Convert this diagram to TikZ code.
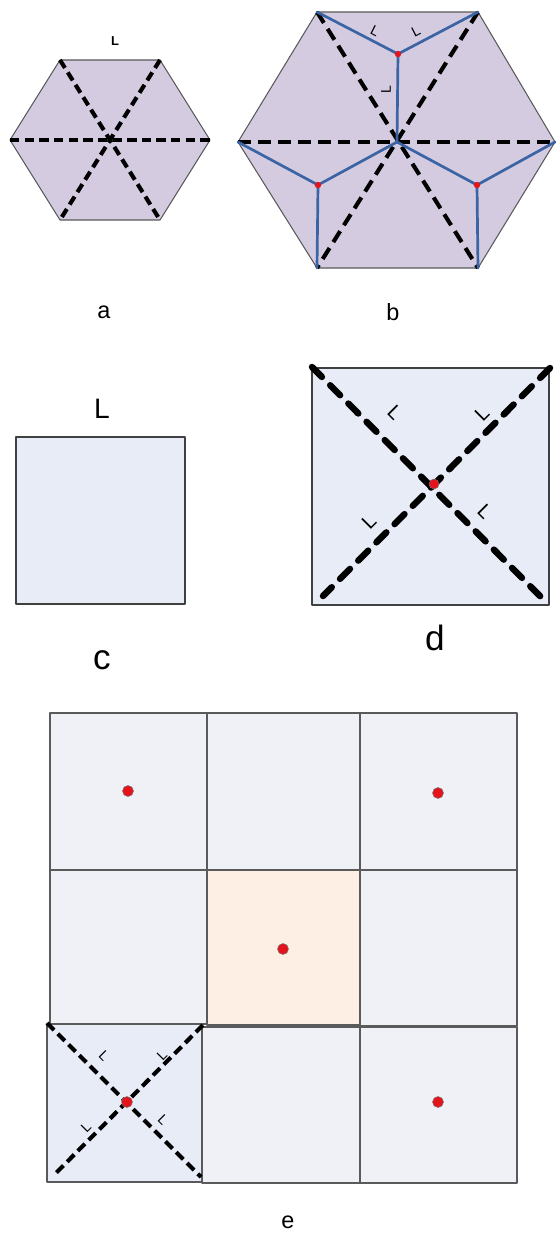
\documentclass[tikz,border=0pt]{standalone}
\usepackage{fontspec}
\setmainfont{Liberation Sans}
\usetikzlibrary{calc}
\definecolor{lilac}{HTML}{D4CBE1}
\definecolor{ice}{HTML}{E8ECF7}
\definecolor{mist}{HTML}{EFF1F7}
\definecolor{peach}{HTML}{FDEFE4}
\definecolor{steel}{HTML}{3A64A3}
\definecolor{dotred}{HTML}{E3141C}
\definecolor{edge}{HTML}{5A5A5A}
\begin{document}
\begin{tikzpicture}[x=0.03cm,y=-0.03cm,line cap=round,line join=round]
  \tikzset{cut/.style={black,line width=3.5pt,line cap=butt,dash pattern=on 8pt off 4.5pt},
    bigcut/.style={black,line width=5.5pt,line cap=round,dash pattern=on 12pt off 10pt},
    cell/.style={draw=edge,line width=1pt},
    spoke/.style={steel,line width=2.3pt},
    dot/.style={fill=dotred,draw=black!55,line width=0.4pt},
    caption/.style={font=\fontsize{20}{20}\selectfont},
    side/.style={font=\fontsize{12}{12}\selectfont,inner sep=0pt}}
  \useasboundingbox (0,0) rectangle (559,1234);
  % (a) hexagon
  \foreach \n/\x/\y in {L/10/140,TL/60/60,TR/160/60,R/210/140,BR/160/220,BL/60/220,C/110/140}{
    \coordinate (a\n) at (\x,\y);
  }
  \filldraw[fill=lilac,draw=edge,line width=0.9pt] (aL)--(aTL)--(aTR)--(aR)--(aBR)--(aBL)--cycle;
  \draw[cut] (aL)--(aR);
  \draw[cut] (aTL)--(aBR);
  \draw[cut] (aTR)--(aBL);
  \node[side,font=\fontsize{11}{11}\selectfont\bfseries] (aside) at (115,41) {L};
  \node[caption] (acap) at (104,312) {a};
  % (b) hexagon with centroids
  \foreach \n/\x/\y in {L/238/142,TL/317/12,TR/478/12,R/555/142,BR/478/268,BL/317/268,C/397/142,P/398/54,Q/318/185,S/477/185}{
    \coordinate (b\n) at (\x,\y);
  }
  \filldraw[fill=lilac,draw=edge,line width=0.9pt] (bL)--(bTL)--(bTR)--(bR)--(bBR)--(bBL)--cycle;
  \draw[cut,dash pattern=on 11pt off 6pt] (bL)--(bR);
  \draw[cut,dash pattern=on 11pt off 6pt] (bTL)--(bBR);
  \draw[cut,dash pattern=on 11pt off 6pt] (bTR)--(bBL);
  \draw[spoke] (bTL)--(bP)--(bTR) (bP)--(bC);
  \draw[spoke] (bL)--(bQ)--(bBL) (bQ)--(bC);
  \draw[spoke] (bR)--(bS)--(bBR) (bS)--(bC);
  \foreach \p in {bP,bQ,bS}{\fill[dotred] (\p) circle (3.2);}
  \node[side,rotate=-27] (bside1) at (375,31) {L};
  \node[side,rotate=27] (bside2) at (416,31) {L};
  \node[side,rotate=90] (bside3) at (386,90) {L};
  \node[caption] (bcap) at (393,312) {b};
  % (c) square
  \filldraw[fill=ice,draw=black!75,line width=1.3pt] (16,437) rectangle (185,604);
  \node[font=\fontsize{24}{24}\selectfont] (cside) at (102,409) {L};
  \node[font=\fontsize{30}{30}\selectfont] (ccap) at (102,660) {c};
  % (d) square with diagonals
  \filldraw[fill=ice,draw=black!75,line width=1.3pt] (312,368) rectangle (549,605);
  \draw[bigcut] (312,367)--(542,598);
  \draw[bigcut] (550,368)--(323,596);
  \fill[dot] (434,484) circle (5);
  \node[side,font=\fontsize{17}{17}\selectfont,rotate=-45] (dside1) at (395,413) {L};
  \node[side,font=\fontsize{17}{17}\selectfont,rotate=45] (dside2) at (482,414) {L};
  \node[side,font=\fontsize{17}{17}\selectfont,rotate=45] (dside3) at (369,522) {L};
  \node[side,font=\fontsize{17}{17}\selectfont,rotate=-45] (dside4) at (485,512) {L};
  \node[font=\fontsize{30}{30}\selectfont] (dcap) at (435,638) {d};
  % (e) 3x3 grid
  \foreach \xa/\ya/\xb/\yb/\col in {50/713/207/870/mist,207/713/360/870/mist,360/713/517/870/mist,
    50/870/207/1024/mist,207/870/360/1025/peach,360/870/517/1026/mist,
    202/1027/360/1183/mist,360/1027/517/1183/mist,47/1024/202/1182/ice}{
    \filldraw[cell,fill=\col] (\xa,\ya) rectangle (\xb,\yb);
  }
  \draw[cut,dash pattern=on 8.5pt off 4.5pt] (47,1023)--(201,1177);
  \draw[cut,dash pattern=on 8.5pt off 4.5pt] (203,1025)--(53,1176);
  \foreach \x/\y in {128/791,438/793,283/949,127/1102,438/1102}{\fill[dot] (\x,\y) circle (5.5);}
  \node[side,rotate=-45] (eside1) at (104,1056) {L};
  \node[side,rotate=45] (eside2) at (162,1055) {L};
  \node[side,rotate=45] (eside3) at (86,1127) {L};
  \node[side,rotate=-45] (eside4) at (163,1120) {L};
  \node[caption] (ecap) at (288,1222) {e};
\end{tikzpicture}
\end{document}
